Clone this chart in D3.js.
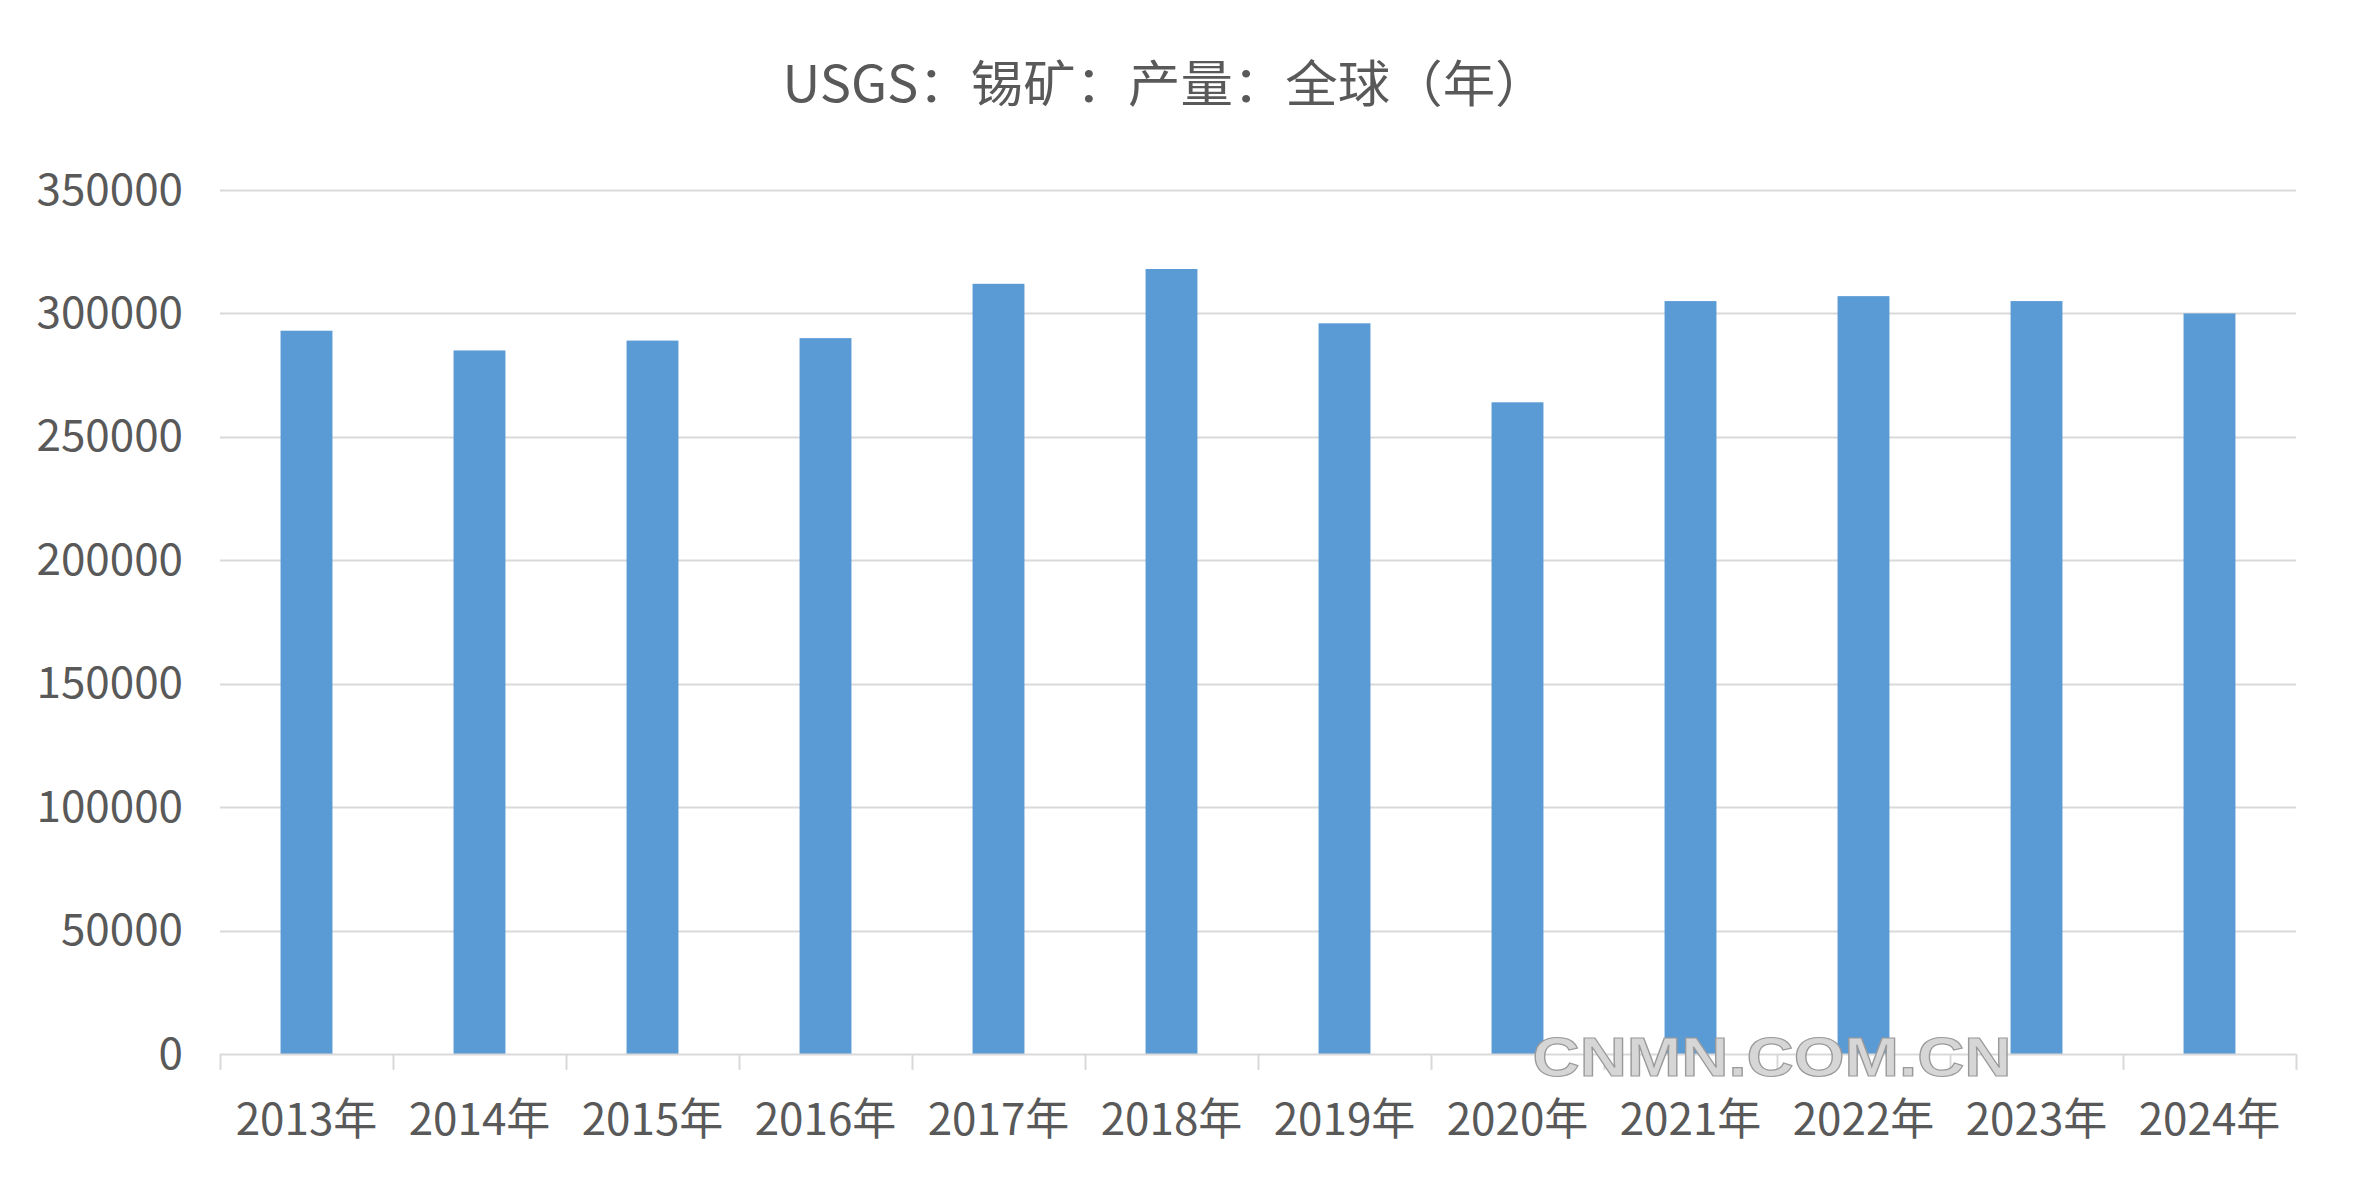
<!DOCTYPE html>
<html>
<head>
<meta charset="utf-8">
<script src="https://cdn.jsdelivr.net/npm/d3@7"></script>
<style>
  html, body { margin: 0; padding: 0; background: #ffffff; }
  svg { display: block; }
</style>
</head>
<body>
<svg id="chart" width="2362" height="1181"></svg>
<script>
// ---- Data ----
const categories = ["2013年","2014年","2015年","2016年","2017年","2018年","2019年","2020年","2021年","2022年","2023年","2024年"];
const production = [293000, 285000, 289000, 290000, 312000, 318000, 296000, 264000, 305000, 307000, 305000, 300000];
const yTicks = [0, 50000, 100000, 150000, 200000, 250000, 300000, 350000];
const titleText = "USGS：锡矿：产量：全球（年）";
const watermarkText = "CNMN.COM.CN";

// ---- Layout ----
const W = 2362, H = 1181;
const margin = { left: 220, right: 66, top: 190, bottom: 127 };
const fontFamily = "'Noto Sans CJK SC', 'Noto Sans', sans-serif";
const textColor = "#595959";
const gridColor = "#d9d9d9";
const barColor = "#5b9bd5";

const svg = d3.select("#chart");

const x = d3.scaleBand()
  .domain(categories)
  .range([margin.left, W - margin.right])
  .paddingInner(0.7)
  .paddingOuter(0.35);

const y = d3.scaleLinear()
  .domain([0, 350000])
  .range([H - margin.bottom, margin.top]);

// Gridlines
svg.append("g")
  .selectAll("line")
  .data(yTicks.filter(d => d !== 0))
  .join("line")
  .attr("x1", margin.left)
  .attr("x2", W - margin.right)
  .attr("y1", d => Math.round(y(d)) + 0.5)
  .attr("y2", d => Math.round(y(d)) + 0.5)
  .attr("stroke", gridColor)
  .attr("stroke-width", 2);

// Y axis labels
const yAxis = d3.axisLeft(y).tickValues(yTicks).tickSize(0).tickPadding(37).tickFormat(d3.format("d"));
const yg = svg.append("g").attr("transform", `translate(${margin.left},0)`).call(yAxis);
yg.select(".domain").remove();
yg.selectAll("text")
  .attr("font-family", fontFamily)
  .attr("font-size", 44)
  .attr("fill", textColor);

// Bars
svg.append("g")
  .selectAll("rect")
  .data(production)
  .join("rect")
  .attr("x", (d, i) => x(categories[i]))
  .attr("width", x.bandwidth())
  .attr("y", d => y(d))
  .attr("height", d => y(0) - y(d))
  .attr("fill", barColor);

// X axis with category boundary ticks
const xAxisY = y(0);
const xg = svg.append("g").attr("transform", `translate(0,${xAxisY})`);
xg.append("line")
  .attr("x1", margin.left).attr("x2", W - margin.right)
  .attr("y1", 0.5).attr("y2", 0.5)
  .attr("stroke", gridColor).attr("stroke-width", 2);
const boundaries = d3.range(categories.length + 1).map(i => margin.left + i * (W - margin.right - margin.left) / categories.length);
xg.selectAll("line.tick")
  .data(boundaries)
  .join("line")
  .attr("class", "tick")
  .attr("x1", d => Math.round(d) + 0.5).attr("x2", d => Math.round(d) + 0.5)
  .attr("y1", 0).attr("y2", 16)
  .attr("stroke", gridColor).attr("stroke-width", 2);
xg.selectAll("text")
  .data(categories)
  .join("text")
  .attr("x", d => x(d) + x.bandwidth() / 2)
  .attr("y", 62)
  .attr("text-anchor", "middle")
  .attr("dominant-baseline", "central")
  .attr("font-family", fontFamily)
  .attr("font-size", 44)
  .attr("fill", textColor)
  .text(d => d);

// Title
svg.append("text")
  .attr("x", 1165)
  .attr("y", 80)
  .attr("text-anchor", "middle")
  .attr("dominant-baseline", "central")
  .attr("font-family", fontFamily)
  .attr("font-size", 50)
  .attr("fill", textColor)
  .attr("textLength", 765)
  .attr("lengthAdjust", "spacingAndGlyphs")
  .text(titleText);

// Watermark
svg.append("text")
  .attr("x", 1772)
  .attr("y", 1056)
  .attr("text-anchor", "middle")
  .attr("dominant-baseline", "central")
  .attr("font-family", "'Liberation Sans', Arial, sans-serif")
  .attr("font-weight", "bold")
  .attr("font-size", 56)
  .attr("fill", "#d6d6d6")
  .attr("stroke", "#9a9a9a")
  .attr("stroke-width", 1.2)
  .attr("textLength", 479)
  .attr("lengthAdjust", "spacingAndGlyphs")
  .text(watermarkText);
</script>
</body>
</html>
